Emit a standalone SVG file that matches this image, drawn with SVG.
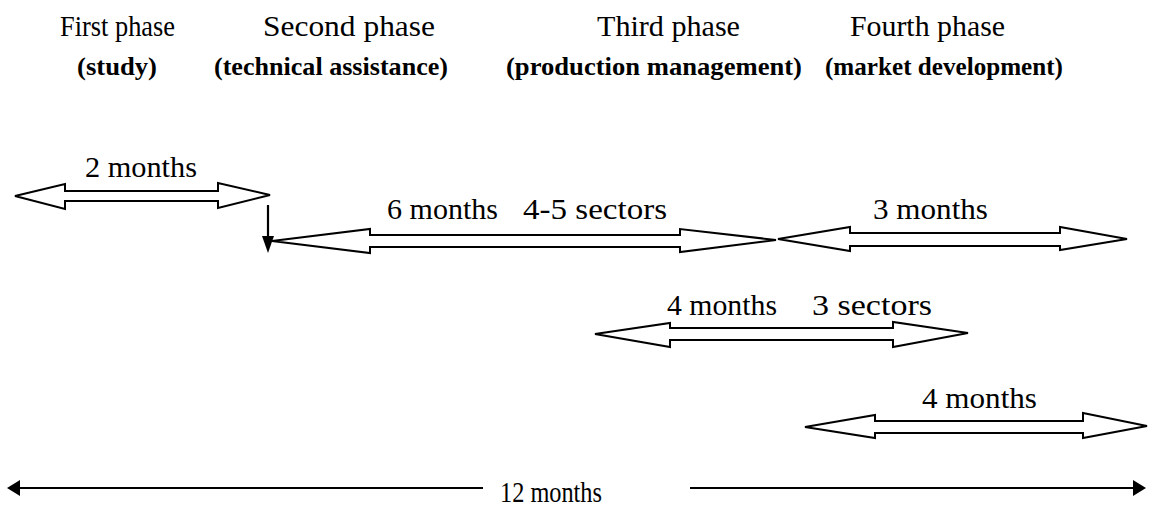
<svg xmlns="http://www.w3.org/2000/svg" width="1149" height="508" viewBox="0 0 1149 508">
<style>
  .hdr { font-family: "Liberation Serif", "Times New Roman", serif; font-size: 30px; fill: #000; }
  .sub { font-family: "Liberation Serif", "Times New Roman", serif; font-size: 25px; font-weight: bold; fill: #000; }
  .lbl { font-family: "Liberation Serif", "Times New Roman", serif; font-size: 30px; fill: #000; }
  .dbl { fill: #fff; stroke: #000; stroke-width: 2; stroke-linejoin: miter; }
  .ln { stroke: #000; stroke-width: 2.2; fill: none; }
  .head { fill: #000; stroke: none; }
</style>
<rect width="1149" height="508" fill="#fff"/>
<g id="phase1">
  <text class="hdr" x="60" y="36" textLength="115" lengthAdjust="spacingAndGlyphs">First phase</text>
  <text class="sub" x="77" y="75" textLength="80" lengthAdjust="spacingAndGlyphs">(study)</text>
</g>
<g id="phase2">
  <text class="hdr" x="263" y="36" textLength="172" lengthAdjust="spacingAndGlyphs">Second phase</text>
  <text class="sub" x="214" y="75" textLength="234" lengthAdjust="spacingAndGlyphs">(technical assistance)</text>
</g>
<g id="phase3">
  <text class="hdr" x="597" y="36" textLength="143" lengthAdjust="spacingAndGlyphs">Third phase</text>
  <text class="sub" x="506" y="75" textLength="296" lengthAdjust="spacingAndGlyphs">(production management)</text>
</g>
<g id="phase4">
  <text class="hdr" x="850" y="36" textLength="155" lengthAdjust="spacingAndGlyphs">Fourth phase</text>
  <text class="sub" x="825" y="75" textLength="238" lengthAdjust="spacingAndGlyphs">(market development)</text>
</g>
<g id="labels">
  <text class="lbl" x="85" y="177" textLength="112" lengthAdjust="spacingAndGlyphs">2 months</text>
  <text class="lbl" x="387" y="219" textLength="111" lengthAdjust="spacingAndGlyphs">6 months</text>
  <text class="lbl" x="523" y="219" textLength="144" lengthAdjust="spacingAndGlyphs">4-5 sectors</text>
  <text class="lbl" x="873" y="219" textLength="115" lengthAdjust="spacingAndGlyphs">3 months</text>
  <text class="lbl" x="667" y="315" textLength="110" lengthAdjust="spacingAndGlyphs">4 months</text>
  <text class="lbl" x="812" y="315" textLength="120" lengthAdjust="spacingAndGlyphs">3 sectors</text>
  <text class="lbl" x="922" y="408" textLength="115" lengthAdjust="spacingAndGlyphs">4 months</text>
  <text class="lbl" x="500" y="502" textLength="102" lengthAdjust="spacingAndGlyphs">12 months</text>
</g>
<g id="connectors">
  <polygon class="dbl" points="15,196 65,184 65,191 218,191 218,183 270,195 218,208 218,201 65,201 65,209"/>
  <polygon class="dbl" points="272,241 370,229 370,235 680,235 680,229 776,240 680,252 680,247 370,247 370,253"/>
  <polygon class="dbl" points="778,239 850,227 850,233 1060,233 1060,227 1127,239 1060,250 1060,246 850,246 850,251"/>
  <polygon class="dbl" points="595,334 670,323 670,328 893,328 893,322 968,333 893,347 893,340 670,340 670,347"/>
  <polygon class="dbl" points="805,427 875,415 875,421 1083,421 1083,413 1147,426 1083,438 1083,433 875,433 875,438"/>
  <line class="ln" x1="268" y1="205" x2="268" y2="240"/>
  <polygon class="head" points="262,236 274,236 268,253"/>
  <line class="ln" x1="16" y1="488" x2="483" y2="488"/>
  <polygon class="head" points="7,488 20,480 20,496"/>
  <line class="ln" x1="690" y1="488" x2="1136" y2="488"/>
  <polygon class="head" points="1146,488 1133,480 1133,496"/>
</g>
</svg>
